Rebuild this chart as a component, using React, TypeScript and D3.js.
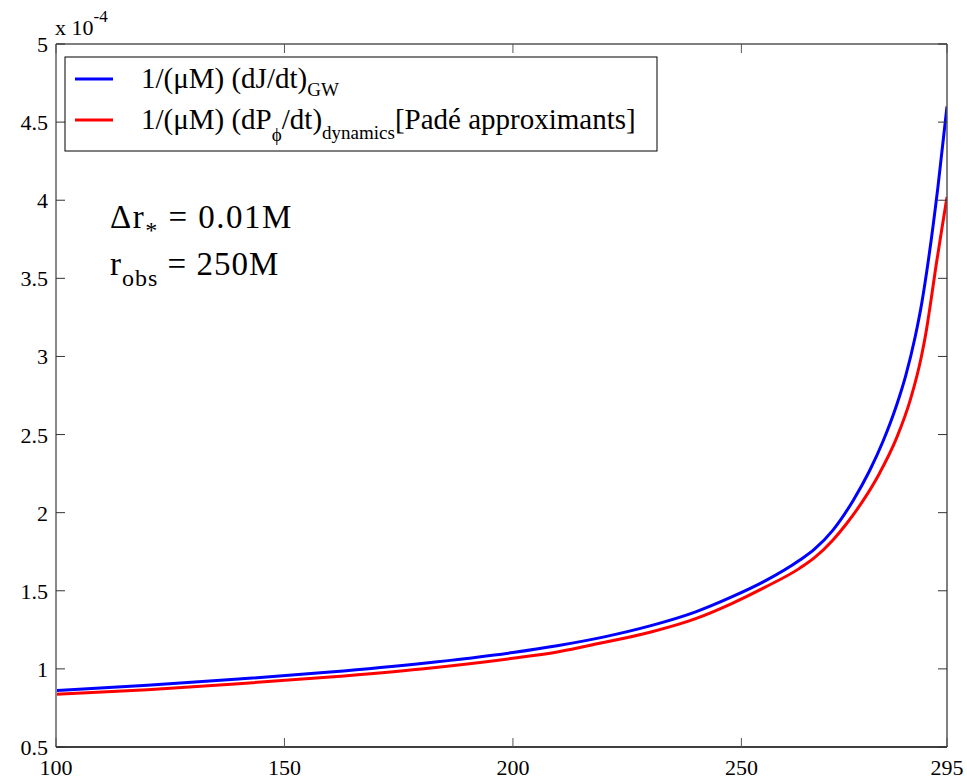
import React from "react";
import * as d3 from "d3";

const xTicks = [100, 150, 200, 250, 295];
const yTicks = [0.5, 1, 1.5, 2, 2.5, 3, 3.5, 4, 4.5, 5];
const yTickLabels = ["0.5", "1", "1.5", "2", "2.5", "3", "3.5", "4", "4.5", "5"];

const blueX = [100, 120, 140, 160, 180, 200, 210, 220, 230, 240, 248, 255, 262.8, 266, 270, 274.5, 278, 281, 284, 286, 288, 289.5, 291, 293, 295];
const blueY = [0.862, 0.895, 0.935, 0.98, 1.035, 1.105, 1.15, 1.205, 1.275, 1.365, 1.462, 1.56, 1.697, 1.767, 1.887, 2.08, 2.265, 2.457, 2.691, 2.881, 3.121, 3.346, 3.631, 4.081, 4.6];

const redX = [100, 120, 140, 160, 180, 200, 210, 219, 230, 240, 248, 255, 262.8, 266, 270, 273, 276.7, 280, 284, 287, 289.4, 290.5, 291.5, 292.6, 294, 295];
const redY = [0.837, 0.867, 0.905, 0.948, 1.0, 1.068, 1.11, 1.164, 1.235, 1.322, 1.42, 1.52, 1.645, 1.712, 1.824, 1.929, 2.08, 2.24, 2.48, 2.725, 3.0, 3.17, 3.36, 3.58, 3.84, 4.02];

const W = 967, H = 779;
const L = 56, R = 947, T = 44, B = 747;
const FONT = "'Liberation Serif', 'Times New Roman', Times, serif";

export default function App() {
  const x = d3.scaleLinear().domain([100, 295]).range([L, R]);
  const y = d3.scaleLinear().domain([0.5, 5]).range([B, T]);
  const line = d3
    .line<[number, number]>()
    .x((d) => x(d[0]))
    .y((d) => y(d[1]))
    .curve(d3.curveMonotoneX);
  const blue = blueX.map((v, i) => [v, blueY[i]] as [number, number]);
  const red = redX.map((v, i) => [v, redY[i]] as [number, number]);
  const tl = 9;

  return (
    <svg width={W} height={H} style={{ position: "absolute", left: 0, top: 0, background: "#fff", fontFamily: FONT }}>
      <rect x={0} y={0} width={W} height={H} fill="#fff" />
      <defs>
        <clipPath id="clip">
          <rect x={L} y={T - 5} width={R - L} height={B - T + 5} />
        </clipPath>
      </defs>
      <g clipPath="url(#clip)">
        <path d={line(blue) || ""} fill="none" stroke="#0000ff" strokeWidth={3} />
        <path d={line(red) || ""} fill="none" stroke="#ff0000" strokeWidth={3} />
      </g>
      <line x1={L} x2={R} y1={T} y2={T} stroke="#555" strokeWidth={1.5} />
      <line x1={R} x2={R} y1={T} y2={B} stroke="#555" strokeWidth={1.5} />
      <line x1={L} x2={L} y1={T} y2={B} stroke="#888" strokeWidth={2} />
      <line x1={L} x2={R} y1={B} y2={B} stroke="#000" strokeWidth={1.5} />
      {xTicks.map((t) => (
        <g key={"x" + t}>
          <line x1={x(t)} x2={x(t)} y1={B} y2={B - tl} stroke="#555" strokeWidth={1} />
          <line x1={x(t)} x2={x(t)} y1={T} y2={T + tl} stroke="#555" strokeWidth={1} />
          <text x={x(t)} y={775} textAnchor="middle" fontSize={22} fill="#000">
            {t}
          </text>
        </g>
      ))}
      {yTicks.map((t, i) => (
        <g key={"y" + t}>
          <line x1={L} x2={L + tl} y1={y(t)} y2={y(t)} stroke="#333" strokeWidth={1} />
          <line x1={R} x2={R - tl} y1={y(t)} y2={y(t)} stroke="#333" strokeWidth={1} />
          <text x={48} y={y(t) + 8} textAnchor="end" fontSize={22} fill="#000">
            {yTickLabels[i]}
          </text>
        </g>
      ))}
      <text x={55} y={35} fontSize={22} fill="#000">
        x 10
        <tspan dy={-13} fontSize={17}>-4</tspan>
      </text>
      <rect x={65} y={57} width={592} height={94} fill="#fff" stroke="#000" strokeWidth={1} />
      <line x1={75} x2={113} y1={79} y2={79} stroke="#0000ff" strokeWidth={3} />
      <line x1={75} x2={113} y1={120} y2={120} stroke="#ff0000" strokeWidth={3} />
      <text x={141} y={88} fontSize={29} fill="#000">
        1/(μM) (dJ/dt)
        <tspan dy={8} fontSize={19}>GW</tspan>
      </text>
      <text x={141} y={129} fontSize={29} fill="#000">
        1/(μM) (dP
        <tspan dy={12} fontSize={19}>ϕ</tspan>
        <tspan dy={-12}>/dt)</tspan>
        <tspan dy={10} fontSize={19}>dynamics</tspan>
        <tspan dy={-10}>[Padé approximants]</tspan>
      </text>
      <text x={110} y={228} fontSize={33} letterSpacing={1.5} fill="#000">
        Δr
        <tspan dy={10} fontSize={24}>*</tspan>
        <tspan dy={-10}> = 0.01M</tspan>
      </text>
      <text x={110} y={275} fontSize={33} letterSpacing={1} fill="#000">
        r
        <tspan dy={11} fontSize={24}>obs</tspan>
        <tspan dy={-11}> = 250M</tspan>
      </text>
    </svg>
  );
}
